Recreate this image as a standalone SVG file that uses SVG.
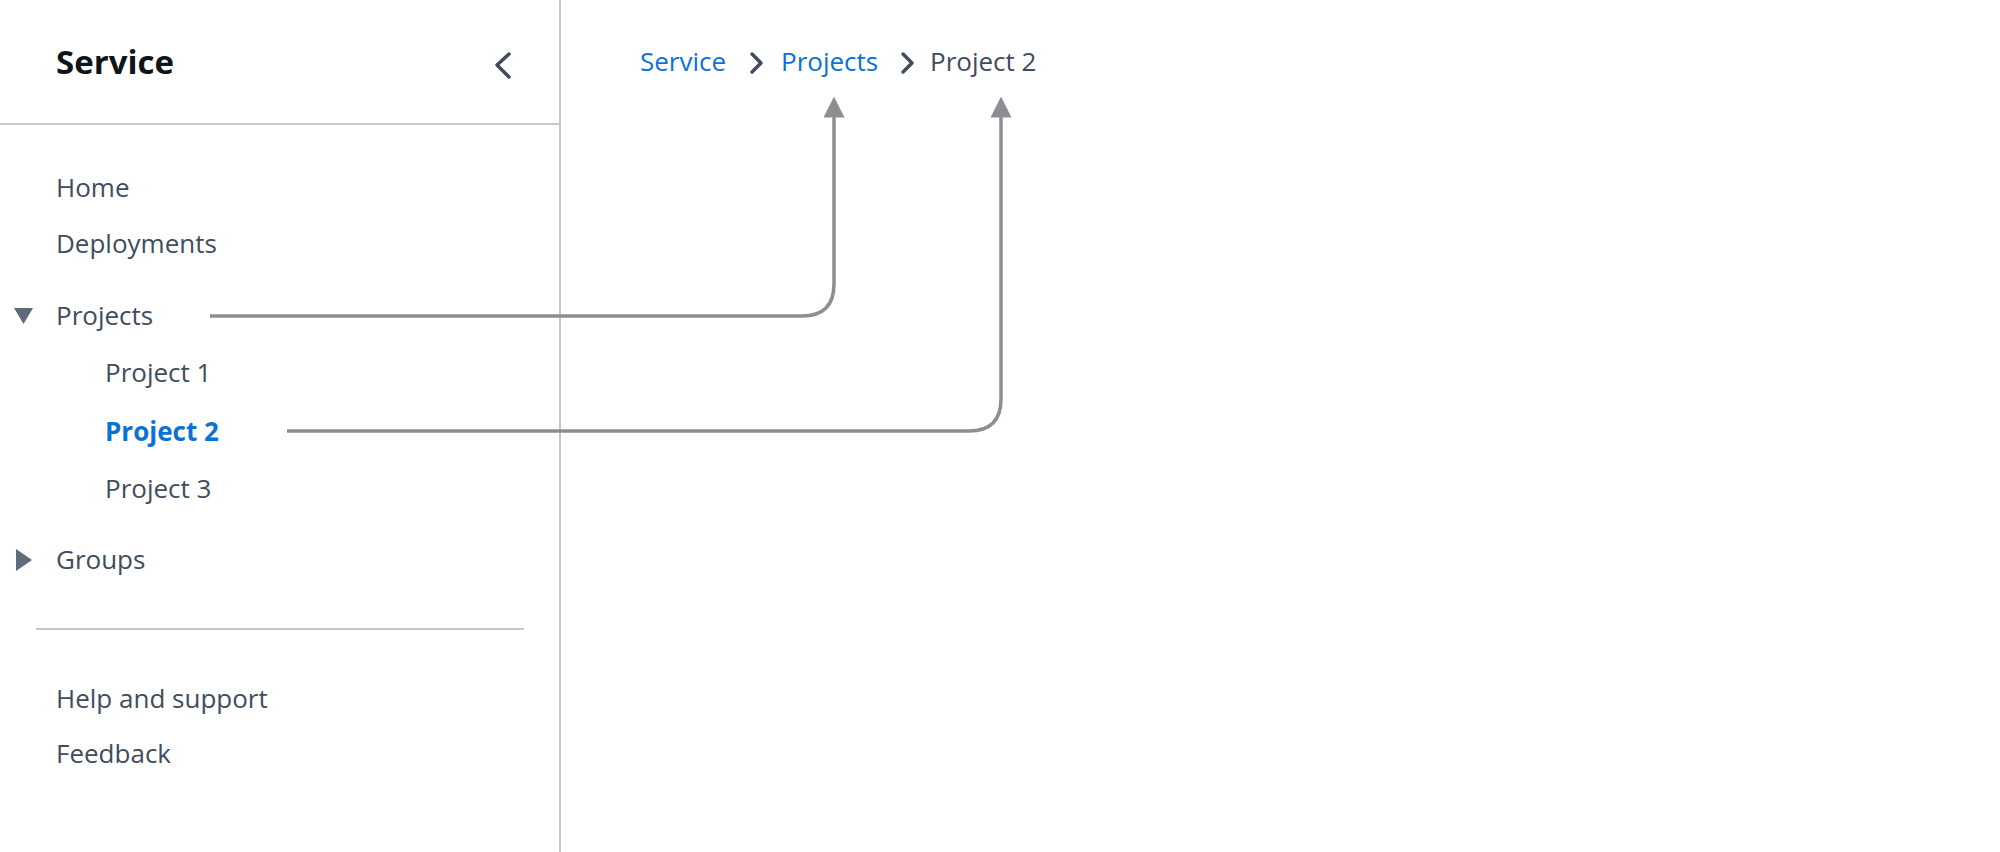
<svg xmlns="http://www.w3.org/2000/svg" width="2000" height="852" viewBox="0 0 2000 852">
<style>
text{font-family:"Open Sans","Noto Sans",sans-serif;font-size:26px;fill:#414d5c}
.blue{fill:#0972d3}
.b{font-weight:700}
.rule{stroke:#c6c6cd;stroke-width:2;fill:none}
.chev{stroke:#414d5c;stroke-width:3.5;fill:none;stroke-linecap:round;stroke-linejoin:round}
.conn{stroke:#8d8d94;stroke-width:3.5;fill:none}
</style>
<defs>
<marker id="ah" markerWidth="6" markerHeight="6" refX="5" refY="3" orient="auto" markerUnits="strokeWidth">
<path d="M0,0 L6,3 L0,6 Z" fill="#8d8d94"/>
</marker>
</defs>
<rect width="2000" height="852" fill="#fff"/>
<line class="rule" x1="560" y1="0" x2="560" y2="852"/>
<line class="rule" x1="0" y1="124" x2="560" y2="124"/>
<line class="rule" x1="36" y1="629" x2="524" y2="629"/>
<g id="header">
<text x="56" y="74" class="b" style="font-size:33px;fill:#0f141a">Service</text>
<path class="chev" d="M509,54 L497,65 L509,77"/>
</g>
<g id="breadcrumb">
<text x="640" y="71" class="blue">Service</text>
<path class="chev" d="M752,54 L761,63 L752,72"/>
<text x="781" y="71" class="blue">Projects</text>
<path class="chev" d="M903,54 L912,63 L903,72"/>
<text x="930" y="71">Project 2</text>
</g>
<g id="nav">
<text x="56" y="197">Home</text>
<text x="56" y="253">Deployments</text>
<path d="M14,308 L33,308 L23.5,324 Z" fill="#5f6b7a"/>
<text x="56" y="325">Projects</text>
<text x="105" y="382">Project 1</text>
<text x="105" y="441" class="blue b">Project 2</text>
<text x="105" y="498">Project 3</text>
<path d="M16,549 L32,560 L16,571 Z" fill="#5f6b7a"/>
<text x="56" y="569">Groups</text>
<text x="56" y="708">Help and support</text>
<text x="56" y="763">Feedback</text>
</g>
<g id="connectors">
<path class="conn" d="M210,316 L802,316 Q834,316 834,284 L834,100" marker-end="url(#ah)"/>
<path class="conn" d="M287,431 L969,431 Q1001,431 1001,399 L1001,100" marker-end="url(#ah)"/>
</g>
</svg>
